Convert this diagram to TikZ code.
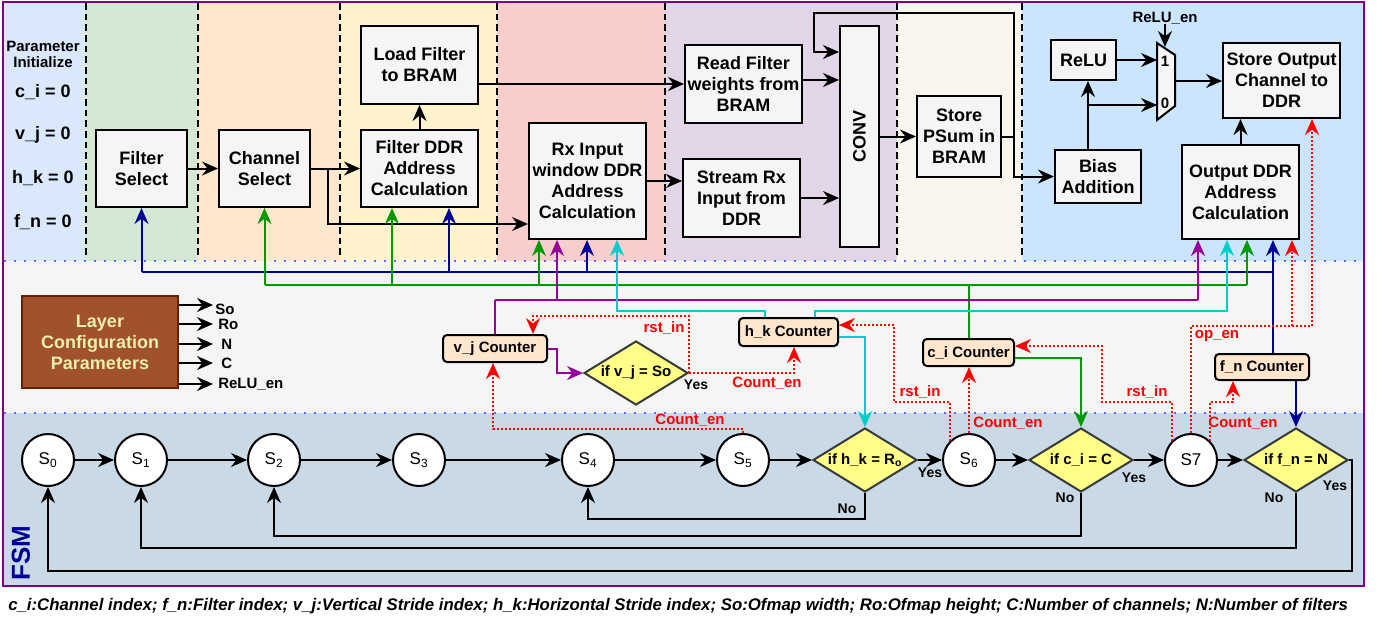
\documentclass[tikz,border=0pt]{standalone}
\usepackage{fontspec}
\setmainfont{Liberation Sans}
\usetikzlibrary{shapes.geometric,arrows.meta,calc}
\definecolor{cA}{HTML}{DAE8FC}
\definecolor{cB}{HTML}{D5E8D4}
\definecolor{cC}{HTML}{FFE6CC}
\definecolor{cD}{HTML}{FFF2CC}
\definecolor{cE}{HTML}{F8CECC}
\definecolor{cF}{HTML}{E1D5E7}
\definecolor{cG}{HTML}{F9F7ED}
\definecolor{cH}{HTML}{CCE5FF}
\definecolor{midg}{HTML}{F5F5F5}
\definecolor{botb}{HTML}{C9D9E6}
\definecolor{frameP}{HTML}{800080}
\definecolor{boxg}{HTML}{F5F5F5}
\definecolor{ctrF}{HTML}{FFE6CC}
\definecolor{diaY}{HTML}{FFFF88}
\definecolor{diaB}{HTML}{36393D}
\definecolor{lnB}{HTML}{000099}
\definecolor{lnG}{HTML}{009900}
\definecolor{lnP}{HTML}{990099}
\definecolor{lnC}{HTML}{00CCCC}
\definecolor{lnR}{HTML}{FF0000}
\definecolor{sepB}{HTML}{6666FF}
\definecolor{lcF}{HTML}{A0522D}
\definecolor{lcD}{HTML}{6D1F00}
\definecolor{lcT}{HTML}{EDF0AA}
\newcommand\myfL{\fontsize{13.5}{15.75}\selectfont\bfseries}
\newcommand\myfM{\fontsize{11.25}{13.5}\selectfont\bfseries}
\newcommand\myfS{\fontsize{10.5}{12.6}\selectfont\bfseries}
\newcommand\myfR{\fontsize{12.75}{15}\selectfont}
\newcommand\myfX{\fontsize{19.5}{22}\selectfont\bfseries}
\newcommand\myfC{\fontsize{12.6}{15}\selectfont\bfseries\itshape}
\newcommand\bx[7][]{\node[box,#1,minimum width={(#5-#3)*0.75pt},minimum height={(#6-#4)*0.75pt}] (#2) at ({(#3+#5)/2},{(#4+#6)/2}) {#7};}
\begin{document}
\begin{tikzpicture}[x=0.75pt,y=-0.75pt,
  >={Stealth[length=12pt,width=10.5pt,inset=4pt]},
  box/.style={draw,line width=1.5pt,fill=boxg,align=center,inner sep=0pt,font=\myfL},
  ctr/.style={fill=ctrF,rounded corners=3pt,font=\myfM},
  lcfg/.style={fill=lcF,draw=lcD,text=lcT},
  dia/.style={diamond,draw=diaB,fill=diaY,line width=1.5pt,aspect=1.625,inner sep=0pt,
    minimum width=104*0.75pt,minimum height=64*0.75pt,font=\myfM},
  st/.style={circle,draw,line width=1.5pt,fill=white,minimum size=52*0.75pt,inner sep=0pt,font=\myfR},
  ln/.style={line width=1.5pt},
  arr/.style={line width=1.5pt,->},
  cb/.style={line width=1.5pt,lnB},
  cg/.style={line width=1.5pt,lnG},
  cp/.style={line width=1.5pt,lnP},
  cc/.style={line width=1.5pt,lnC},
  rd/.style={line width=1.5pt,lnR,dash pattern=on 1.5pt off 1.5pt},
  rlab/.style={text=lnR,font=\myfM,inner sep=0pt},
  yn/.style={font=\myfS,inner sep=0pt},
  dsh/.style={line width=1.5pt,dash pattern=on 5pt off 3pt},
  sep/.style={line width=1.5pt,sepB,dash pattern=on 1.5pt off 6pt}]
\useasboundingbox (0,0) rectangle (1382,622);
\fill[white] (0,0) rectangle (1382,622);
% backgrounds
\fill[cA] (4,2) rectangle (86,261);
\fill[cB] (86,2) rectangle (198,261);
\fill[cC] (198,2) rectangle (340,261);
\fill[cD] (340,2) rectangle (497,261);
\fill[cE] (497,2) rectangle (665,261);
\fill[cF] (665,2) rectangle (897,261);
\fill[cG] (897,2) rectangle (1022,261);
\fill[cH] (1022,2) rectangle (1364,261);
\fill[midg] (4,261) rectangle (1364,413);
\fill[botb] (4,413) rectangle (1364,586);
\foreach \xx in {86,198,340,497,665,897,1022} \draw[dsh] (\xx,3) -- (\xx,258);
\draw[sep] (4,261) -- (1364,261);
\draw[sep] (4,413) -- (1364,413);
% column 1 texts
\node[font=\myfM,align=center,inner sep=0pt] (pin) at (43,54) {Parameter\\[-1.5pt]Initialize};
\node[font=\myfL,inner sep=0pt] (ci0) at (43,92) {c\_i = 0};
\node[font=\myfL,inner sep=0pt] (vj0) at (43,135) {v\_j = 0};
\node[font=\myfL,inner sep=0pt] (hk0) at (43,178) {h\_k = 0};
\node[font=\myfL,inner sep=0pt] (fn0) at (43,222) {f\_n = 0};
% boxes
\bx{fs}{96}{130}{187}{207}{Filter\\Select}
\bx{cs}{219}{130}{310}{207}{Channel\\Select}
\bx{lf}{361}{26}{478}{104}{Load Filter\\to BRAM}
\bx{fd}{361}{130}{478}{207}{Filter DDR\\Address\\Calculation}
\bx{rx}{529}{123}{646}{239}{Rx Input\\window DDR\\Address\\Calculation}
\bx{rf}{685}{45}{802}{123}{Read Filter\\weights from\\BRAM}
\bx{sr}{683}{159}{800}{237}{Stream Rx\\Input from\\DDR}
\bx{cv}{840}{26}{879}{247}{}
\node[rotate=90,font=\myfL] (cvt) at (cv) {CONV};
\bx{sp}{917}{96}{1001}{177}{Store\\PSum in\\BRAM}
\bx{rl}{1051}{40}{1116}{80}{ReLU}
\bx{ba}{1055}{150}{1141}{203}{Bias\\Addition}
\bx{so}{1223}{43}{1340}{118}{Store Output\\Channel to\\DDR}
\bx{od}{1182}{145}{1299}{239}{Output DDR\\Address\\Calculation}
% mux
\draw[line width=1.5pt,fill=boxg] (1157,43) -- (1175,55) -- (1175,106) -- (1157,120) -- cycle;
\node[font=\myfM,inner sep=0pt] (m1) at (1165,61) {1};
\node[font=\myfM,inner sep=0pt] (m0) at (1165,103) {0};
\coordinate (mi1) at (1157,60);
\coordinate (mi0) at (1157,105);
\coordinate (mo) at (1175,81);
\coordinate (mt) at (1165,47);
\node[font=\myfM,inner sep=0pt] (reluen) at (1165,18) {ReLU\_en};
% top connectors
\draw[arr] (fs) -- (cs);
\draw[arr] (cs.east) -- (fd.west);
\draw[arr] (328,0 |- cs.east) |- (rx.west |- 0,224);
\draw[arr] (fd.north) -- (lf.south);
\draw[arr] (lf.east |- rf.west) -- (rf.west);
\draw[arr] (rx.east) -- (rx.east -| sr.west);
\draw[arr] (rf.east |- 0,80) -- (cv.west |- 0,80);
\draw[arr] (sr.east) -- (sr.east -| cv.west);
\draw[arr] (cv.east |- sp.west) -- (sp.west);
\draw[arr] (sp.east) -| (1014,13) -| (814,52) -- (cv.west |- 0,52);
\draw[arr] (1014,0 |- sp.east) |- (ba.west);
\draw[arr] (1088,0 |- ba.north) -- (1088,0 |- rl.south);
\draw[arr] (1088,105) -- (mi0);
\draw[arr] (rl.east) -- (mi1);
\draw[arr] (mo) -- (mo -| so.west);
\draw[arr] (od.north) -- (od.north |- so.south);
\draw[arr] (reluen.south) -- (mt);
% layer config
\bx[lcfg]{lc}{22}{296}{178}{388}{Layer\\Configuration\\Parameters}
\draw[arr] (lc.east |- 0,305) -- (213,305);
\draw[arr] (lc.east |- 0,324) -- (213,324);
\draw[arr] (lc.east |- 0,344) -- (213,344);
\draw[arr] (lc.east |- 0,363) -- (213,363);
\draw[arr] (lc.east |- 0,384) -- (213,384);
\node[font=\myfM,anchor=west,inner sep=0pt] (lso) at (215,309) {So};
\node[font=\myfM,anchor=west,inner sep=0pt] (lro) at (218,324) {Ro};
\node[font=\myfM,anchor=west,inner sep=0pt] (lnn) at (221,344) {N};
\node[font=\myfM,anchor=west,inner sep=0pt] (lcc) at (221,363) {C};
\node[font=\myfM,anchor=west,inner sep=0pt] (lre) at (218,384) {ReLU\_en};
% counters
\bx[ctr]{vj}{443}{335}{547}{362}{v\_j Counter}
\bx[ctr]{hk}{739}{318}{838}{346}{h\_k Counter}
\bx[ctr]{ci}{923}{339}{1014}{366}{c\_i Counter}
\bx[ctr]{fn}{1215}{354}{1309}{380}{f\_n Counter}
% diamonds & states
\node[dia] (dv) at (636,373) {if v\_j = So};
\node[dia] (dh) at (865,460) {if h\_k = R\textsubscript{o}};
\node[dia] (dc) at (1081,460) {if c\_i = C};
\node[dia] (dn) at (1296,460) {if f\_n = N};
\node[st] (s0) at (48,460) {S\textsubscript{0}};
\node[st] (s1) at (141,460) {S\textsubscript{1}};
\node[st] (s2) at (274,460) {S\textsubscript{2}};
\node[st] (s3) at (419,460) {S\textsubscript{3}};
\node[st] (s4) at (588,460) {S\textsubscript{4}};
\node[st] (s5) at (743,460) {S\textsubscript{5}};
\node[st] (s6) at (969,460) {S\textsubscript{6}};
\node[st] (s7) at (1191,460) {S7};
% colored connectors
\draw[cb] (fs.south |- 0,272) -- (1273,272);
\draw[cb,->] (fs.south |- 0,272) -- (fs.south);
\draw[cb,->] (449,272) -- (449,0 |- fd.south);
\draw[cb,->] (587,272) -- (587,0 |- rx.south);
\draw[cb,->] (1273,0 |- fn.north) -- (1273,0 |- od.south);
\draw[cb,->] (dn.north |- fn.south) -- (dn.north);
\draw[cg] (cs.south |- 0,285) -- (1247,285);
\draw[cg,->] (cs.south |- 0,285) -- (cs.south);
\draw[cg,->] (392,285) -- (392,0 |- fd.south);
\draw[cg,->] (539,285) -- (539,0 |- rx.south);
\draw[cg,->] (1247,285) -- (1247,0 |- od.south);
\draw[cg] (ci.north) -- (ci.north |- 0,285);
\draw[cg,->] (ci.east |- 0,358) -| (dc.north);
\draw[cp] (vj.north |- 0,300) -- (1198,300);
\draw[cp] (vj.north) -- (vj.north |- 0,300);
\draw[cp,->] (557,300) -- (557,0 |- rx.south);
\draw[cp,->] (1198,300) -- (1198,0 |- od.south);
\draw[cp,->] (vj.east) -- (557,0 |- vj.east) |- (dv.west);
\draw[cc,->] (765,0 |- hk.north) |- (617,311) -- (617,0 |- rx.south);
\draw[cc,->] (815,0 |- hk.north) |- (1227,311) -- (1227,0 |- od.south);
\draw[cc,->] (hk.east |- 0,337) -| (dh.north);
% red dotted
\draw[rd,->] (dv.east) |- (533,316) -- (533,0 |- vj.north);
\draw[rd,->] (dv.east) -| (794,0 |- hk.south);
\draw[rd,->] (s5.north) |- (493,429) -- (493,0 |- vj.south);
\draw[rd,->] (s6.north west) |- (894,402) |- (hk.east |- 0,325);
\draw[rd,->] (s6.north) -- (s6.north |- ci.south);
\draw[rd,->] (s7.north west) |- (1102,402) |- (ci.east |- 0,346);
\draw[rd,->] (s7.north) |- (1312,326) -- (1312,0 |- so.south);
\draw[rd,->] (1292,326) -- (1292,0 |- od.south);
\draw[rd,->] (s7.north east) |- (1233,402) -- (1233,0 |- fn.south);
\node[rlab] (r1) at (664,328) {rst\_in};
\node[rlab] (r2) at (767,383) {Count\_en};
\node[rlab] (r3) at (690,420) {Count\_en};
\node[rlab] (r4) at (920,392) {rst\_in};
\node[rlab] (r5) at (1008,423) {Count\_en};
\node[rlab] (r6) at (1147,392) {rst\_in};
\node[rlab] (r7) at (1217,336) {op\_en};
\node[rlab] (r8) at (1243,423) {Count\_en};
% FSM connectors
\draw[arr] (s0) -- (s1);
\draw[arr] (s1) -- (s2);
\draw[arr] (s2) -- (s3);
\draw[arr] (s3) -- (s4);
\draw[arr] (s4) -- (s5);
\draw[arr] (s5) -- (dh);
\draw[arr] (dh) -- (s6);
\draw[arr] (s6) -- (dc);
\draw[arr] (dc) -- (s7);
\draw[arr] (s7) -- (dn);
\draw[arr] (dh.south) -- ++(0,26) -| (s4.south);
\draw[arr] (dc.south) -- ++(0,43) -| (s2.south);
\draw[arr] (dn.south) -- ++(0,55) -| (s1.south);
\draw[arr] (dn.east) -- ++(3,0) -- ++(0,111) -| (s0.south);
\node[yn] (y1) at (696,385) {Yes};
\node[yn] (y2) at (930,473) {Yes};
\node[yn] (y3) at (1134,478) {Yes};
\node[yn] (y4) at (1335,486) {Yes};
\node[yn] (n1) at (847,509) {No};
\node[yn] (n2) at (1065,498) {No};
\node[yn] (n3) at (1274,498) {No};
\node[rotate=90,font=\myfX,text=lnB,inner sep=0pt] (fsm) at (21,553) {FSM};
% frame
\draw[frameP,line width=1.5pt] (3,2) rectangle (1364,586);
% caption
\node[font=\myfC,anchor=west,inner sep=0pt] (cap) at (8,606) {c\_i:Channel index; f\_n:Filter index; v\_j:Vertical Stride index; h\_k:Horizontal Stride index; So:Ofmap width; Ro:Ofmap height; C:Number of channels; N:Number of filters};
\end{tikzpicture}
\end{document}
